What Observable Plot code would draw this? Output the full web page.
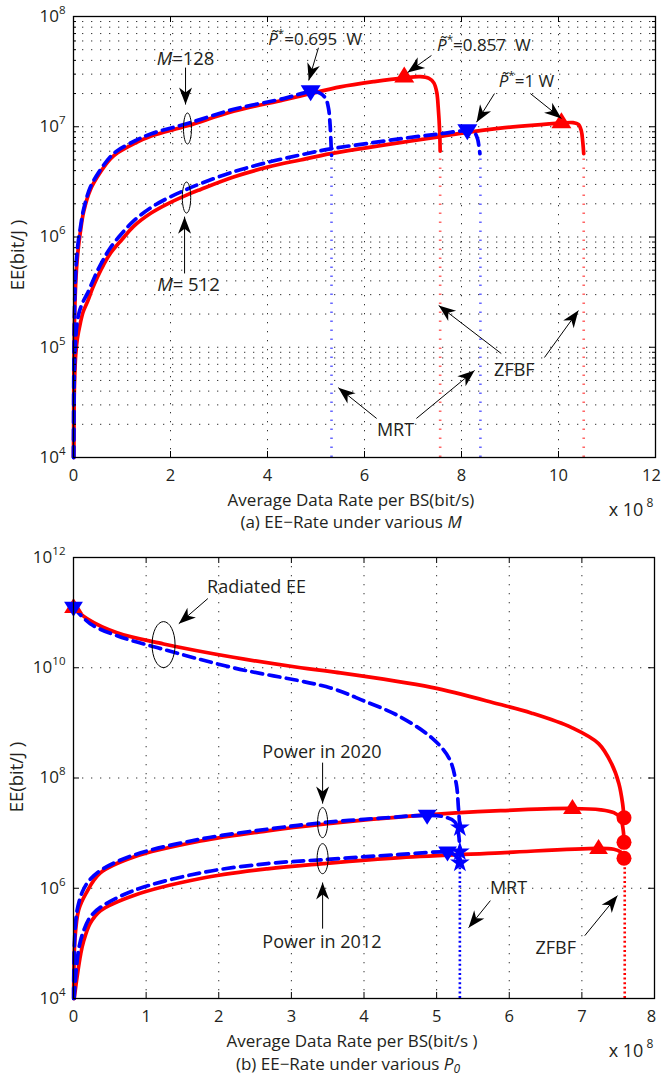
<!DOCTYPE html>
<html><head><meta charset="utf-8">
<script src="https://cdn.jsdelivr.net/npm/d3@7"></script>
<script src="https://cdn.jsdelivr.net/npm/@observablehq/plot@0.6"></script>
<style>
body{margin:0;background:#fff;font-family:"Open Sans",sans-serif;color:#231f20;}
#root{position:relative;width:662px;height:1076px;overflow:hidden;background:#fff;}
.pane{position:absolute;left:0;}
.lbl{position:absolute;font-size:17px;white-space:nowrap;line-height:1;transform:translate(-50%,-50%);}
svg text{white-space:pre;}
</style></head><body><div id="root"></div>
<script>
// ================= TOP PANEL (a): rate in units of 1e8 bit/s =================
const topXTicks = [0, 2, 4, 6, 8, 10, 12];
const topXLabels = [0, 2, 4, 6, 8, 10];
const topXLast = [12];
const topXGrid = [2, 4, 6, 8, 10];
const topYTicks = [1e4, 1e5, 1e6, 1e7, 1e8];
const topYGrid = [2e4,3e4,4e4,5e4,6e4,7e4,8e4,9e4,1e5,2e5,3e5,4e5,5e5,6e5,7e5,8e5,9e5,1e6,2e6,3e6,4e6,5e6,6e6,7e6,8e6,9e6,1e7,2e7,3e7,4e7,5e7,6e7,7e7,8e7,9e7];
const topYMinor = [2e4,3e4,4e4,5e4,6e4,7e4,8e4,9e4,2e5,3e5,4e5,5e5,6e5,7e5,8e5,9e5,2e6,3e6,4e6,5e6,6e6,7e6,8e6,9e6,2e7,3e7,4e7,5e7,6e7,7e7,8e7,9e7];

// M = 128, ZFBF (red solid)
const zf128X = [0.002,0.01,0.03,0.06,0.1,0.14,0.21,0.35,0.56,0.76,0.91,1.24,1.59,2.35,3.3,4.33,4.89,5.5,6.2,6.82,7.15,7.33,7.43,7.49,7.52,7.55,7.56];
const zf128Y = [1e4,8e4,2.5e5,5e5,8e5,1.1e6,1.7e6,2.7e6,3.9e6,5.1e6,5.8e6,7.0e6,8.2e6,1.02e7,1.38e7,1.75e7,2.0e7,2.3e7,2.57e7,2.78e7,2.85e7,2.75e7,2.5e7,2.05e7,1.5e7,9e6,6e6];
// M = 128, MRT (blue dashed)
const mrt128X = [0.0018,0.008,0.025,0.05,0.09,0.14,0.21,0.35,0.56,0.76,0.91,1.24,1.59,2.35,3.3,4.33,4.89,5.08,5.2,5.26,5.29,5.31,5.32];
const mrt128Y = [1e4,8e4,2.6e5,5.2e5,8.5e5,1.2e6,1.8e6,2.85e6,4.1e6,5.35e6,6.1e6,7.35e6,8.6e6,1.07e7,1.44e7,1.8e7,2.08e7,2.02e7,1.8e7,1.45e7,1.05e7,7e6,5.5e6];
// M = 512, ZFBF
const zf512X = [0.004,0.012,0.025,0.045,0.08,0.14,0.2,0.29,0.39,0.49,0.62,0.76,1.0,1.24,1.6,1.94,2.33,2.62,3.3,4.0,4.68,5.3,6.0,6.8,7.53,8.12,8.8,9.44,10.06,10.3,10.41,10.47,10.5,10.52];
const zf512Y = [1e4,3e4,5.5e4,8.5e4,1.2e5,1.65e5,2.1e5,2.6e5,3.4e5,4.3e5,5.6e5,7.1e5,9.5e5,1.25e6,1.65e6,2.0e6,2.4e6,2.7e6,3.5e6,4.3e6,5.0e6,5.7e6,6.4e6,7.25e6,8.1e6,8.9e6,9.7e6,1.03e7,1.08e7,1.09e7,1.05e7,9.2e6,7.3e6,5.7e6];
// M = 512, MRT
const mrt512X = [0.003,0.01,0.02,0.04,0.07,0.12,0.2,0.29,0.39,0.49,0.62,0.76,1.0,1.24,1.6,1.94,2.33,2.62,3.3,4.0,4.68,5.3,6.0,6.8,7.53,8.12,8.26,8.33,8.36,8.38];
const mrt512Y = [1e4,3.2e4,6.5e4,1.1e5,1.6e5,2.1e5,2.6e5,3.1e5,3.9e5,4.9e5,6.3e5,8e5,1.08e6,1.4e6,1.85e6,2.25e6,2.7e6,3.05e6,3.9e6,4.75e6,5.55e6,6.3e6,7.0e6,7.85e6,8.6e6,9.2e6,8.9e6,7.8e6,6.6e6,5.7e6];
// dotted drops to the axis (max-rate points)
const topDropX = [7.56, 10.52, 5.32, 8.39];
const topDropY = [6e6, 5.7e6, 5.5e6, 5.7e6];
const topDropSeries = ["ZFBF", "ZFBF", "MRT", "MRT"];
// optimal-power markers
const topRedTriX = [6.82, 10.06];
const topRedTriY = [2.85e7, 1.1e7];
const topBlueTriX = [4.89, 8.12];
const topBlueTriY = [2.1e7, 9.3e6];
// annotations
const topNoteText = ["<i>M</i>=128", "<i>M</i>= 512", "<i>P\u0303</i><sup>*</sup>=0.695  W", "<i>P\u0303</i><sup>*</sup>=0.857  W", "<i>P\u0303</i><sup>*</sup>=1 W", "MRT", "ZFBF"];
const topNoteSize = [18.5, 18.5, 17, 17, 17, 18, 18];
const topNoteX = [2.31, 2.37, 4.98, 8.46, 9.34, 6.64, 9.09];
const topNoteY = [4.07e7, 3.63e5, 6.17e7, 5.46e7, 2.55e7, 1.76e4, 6.15e4];
const topArrX1 = [2.31, 2.29, 5.05, 7.38, 8.68, 9.42, 6.25, 7.07, 8.82, 9.71];
const topArrY1 = [3.44e7, 4.67e5, 5.2e7, 4.43e7, 2.0e7, 2.0e7, 2.26e4, 2.26e4, 8.77e4, 8.07e4];
const topArrX2 = [2.31, 2.29, 4.85, 6.89, 8.31, 10.06, 5.46, 8.27, 7.53, 10.41];
const topArrY2 = [1.59e7, 1.53e6, 2.63e7, 3.1e7, 1.1e7, 1.19e7, 4.3e4, 6.15e4, 2.39e5, 2.15e5];
const topEllX = [2.35, 2.33];
const topEllY = [9.64e6, 2.28e6];

// ================= BOTTOM PANEL (b) =================
const botXTicks = [0, 1, 2, 3, 4, 5, 6, 7, 8];
const botXLabels = [0, 1, 2, 3, 4, 5, 6, 7];
const botXLast = [8];
const botXGrid = [1, 2, 3, 4, 5, 6, 7];
const botYTicks = [1e4, 1e6, 1e8, 1e10, 1e12];
const botYGrid = [1e6, 1e8, 1e10];
// Radiated EE
const radZfX = [0,0.19,0.6,1.24,2.2,3.13,3.55,4.93,5.85,6.31,6.86,7.23,7.41,7.51,7.56,7.58];
const radZfY = [1.25e11,7.7e10,4.3e10,2.7e10,1.55e10,1.0e10,8.5e9,4.4e9,2.2e9,1.5e9,8.2e8,4.2e8,1.8e8,7.9e7,3.5e7,1.9e7];
const radMrtX = [0,0.23,0.6,1.16,2.2,3.54,4.0,4.47,4.93,5.17,5.27,5.3,5.32];
const radMrtY = [1.25e11,6.3e10,3.8e10,2.3e10,1.0e10,4.3e9,2.5e9,1.35e9,5.4e8,2.3e8,7.9e7,2.9e7,1.26e7];
// Power in 2020
const p20ZfX = [0.003,0.02,0.07,0.17,0.37,0.83,1.75,2.67,3.44,4.68,5.88,6.87,7.26,7.44,7.53,7.57,7.58];
const p20ZfY = [1e4,1.2e5,4e5,8e5,1.9e6,3.7e6,7.2e6,1.1e7,1.45e7,2.05e7,2.55e7,2.8e7,2.65e7,2.35e7,1.9e7,1.1e7,6.8e6];
const p20MrtX = [0.002,0.015,0.05,0.12,0.2,0.37,0.83,1.75,2.67,3.44,4.3,4.87,5.12,5.25,5.3,5.32];
const p20MrtY = [1e4,1.2e5,4e5,8.5e5,1.3e6,2.1e6,4.0e6,7.8e6,1.18e7,1.55e7,1.9e7,2.1e7,1.95e7,1.6e7,1.0e7,4.6e6];
// Power in 2012
const p12ZfX = [0.01,0.05,0.1,0.14,0.23,0.37,0.83,1.75,2.67,3.44,4.5,5.88,7.23,7.44,7.53,7.57,7.58];
const p12ZfY = [1e4,2.5e4,6.5e4,1.1e5,2.3e5,3.9e5,7.4e5,1.5e6,2.25e6,2.8e6,3.6e6,4.4e6,5.3e6,5.1e6,4.6e6,4e6,3.5e6];
const p12MrtX = [0.008,0.04,0.08,0.14,0.23,0.37,0.83,1.75,2.67,3.44,4.5,5.15,5.25,5.3,5.32];
const p12MrtY = [1e4,3.6e4,9e4,1.7e5,3e5,4.5e5,9.1e5,1.9e6,2.8e6,3.3e6,4.1e6,4.5e6,4.0e6,3.3e6,2.9e6];
const botDropX = [7.59, 5.32];
const botDropY = [3.5e6, 2.9e6];
const botDropSeries = ["ZFBF", "MRT"];
const botRedTriX = [0, 6.87, 7.23];
const botRedTriY = [1.25e11, 2.8e7, 5.3e6];
const botBlueTriX = [0, 4.87, 5.15];
const botBlueTriY = [1.25e11, 2.1e7, 4.5e6];
const botStarX = [5.32, 5.32, 5.32];
const botStarY = [1.26e7, 4.6e6, 2.9e6];
const botCircX = [7.58, 7.58, 7.58];
const botCircY = [1.9e7, 6.8e6, 3.5e6];
const botNoteText = ["Radiated EE", "Power in 2020", "Power in 2012", "MRT", "ZFBF"];
const botNoteX = [2.52, 3.42, 3.42, 5.99, 6.64];
const botNoteY = [2.86e11, 2.89e8, 1.07e5, 9.85e5, 8.0e4];
const botArrX1 = [1.85, 3.43, 3.43, 5.74, 7.04];
const botArrY1 = [1.8e11, 1.9e8, 1.85e5, 5.96e5, 1.38e5];
const botArrX2 = [1.45, 3.43, 3.43, 5.44, 7.49];
const botArrY2 = [6.3e10, 3.43e7, 1.27e6, 1.93e5, 7.35e5];
const botEllX = [1.24, 3.43, 3.43];
const botEllY = [2.63e10, 1.55e7, 3.44e6];

// ================= helpers =================
const RED = "#ff0000", BLUE = "#0000ff", INK = "#231f20";
const NS = "http://www.w3.org/2000/svg";
const zip = (xs, ys) => xs.map((x, i) => ({x, y: ys[i]}));
const zip4 = (a, b, c, d) => a.map((v, i) => ({x1: v, y1: b[i], x2: c[i], y2: d[i]}));
const triUp = {draw(c, s) { const r = Math.sqrt(s / Math.PI); c.moveTo(0, -1.25 * r); c.lineTo(1.25 * r, 0.75 * r); c.lineTo(-1.25 * r, 0.75 * r); c.closePath(); }};
const triDown = {draw(c, s) { const r = Math.sqrt(s / Math.PI); c.moveTo(0, 1.25 * r); c.lineTo(1.25 * r, -0.75 * r); c.lineTo(-1.25 * r, -0.75 * r); c.closePath(); }};
const ellipse = (rx, ry) => ({draw(c) {
  const k = 0.5523;
  c.moveTo(rx, 0);
  c.bezierCurveTo(rx, ry * k, rx * k, ry, 0, ry);
  c.bezierCurveTo(-rx * k, ry, -rx, ry * k, -rx, 0);
  c.bezierCurveTo(-rx, -ry * k, -rx * k, -ry, 0, -ry);
  c.bezierCurveTo(rx * k, -ry, rx, -ry * k, rx, 0);
  c.closePath();
}});
const pow10 = d => `10<sup>${Math.round(Math.log10(d))}</sup>`;

function richify(root) {
  root.querySelectorAll("text").forEach(t => {
    const s = t.textContent;
    if (!/<(sup|sub|i)>/.test(s)) return;
    while (t.firstChild) t.removeChild(t.firstChild);
    const re = /<(sup|sub|i)>(.*?)<\/(?:sup|sub|i)>|([^<]+)/g;
    let m, shift = 0;
    while ((m = re.exec(s)) !== null) {
      const ts = document.createElementNS(NS, "tspan");
      let target = 0;
      if (m[3] !== undefined) ts.textContent = m[3];
      else {
        ts.textContent = m[2];
        if (m[1] === "i") ts.setAttribute("font-style", "italic");
        else { ts.setAttribute("font-size", "0.68em"); target = m[1] === "sup" ? -8 : 4; }
      }
      if (target !== shift) { ts.setAttribute("dy", (target - shift) + "px"); shift = target; }
      t.appendChild(ts);
    }
  });
}
function finish(svg, id) {
  const defs = document.createElementNS(NS, "defs");
  const mk = document.createElementNS(NS, "marker");
  const at = {id, viewBox: "-18 -8 20 16", refX: 0, refY: 0, markerWidth: 20, markerHeight: 16, markerUnits: "userSpaceOnUse", orient: "auto"};
  for (const k in at) mk.setAttribute(k, at[k]);
  const p = document.createElementNS(NS, "path");
  p.setAttribute("d", "M0,0 L-17,-6.5 L-12,0 L-17,6.5 Z");
  p.setAttribute("fill", "#000");
  mk.appendChild(p); defs.appendChild(mk);
  svg.insertBefore(defs, svg.firstChild);
  svg.querySelectorAll('g[aria-label="link"] path')
    .forEach(q => q.setAttribute("marker-end", `url(#${id})`));
  richify(svg);
  return svg;
}
function frameTicks(xt, yt, ytMinor, H, W) {
  const tk = {stroke: "#000", strokeWidth: 1};
  const m = [
    Plot.ruleX(xt, {...tk, insetTop: H - 6}),
    Plot.ruleX(xt, {...tk, insetBottom: H - 6}),
    Plot.ruleY(yt, {...tk, insetRight: W - 6}),
    Plot.ruleY(yt, {...tk, insetLeft: W - 6})
  ];
  if (ytMinor) m.push(
    Plot.ruleY(ytMinor, {...tk, insetRight: W - 3}),
    Plot.ruleY(ytMinor, {...tk, insetLeft: W - 3})
  );
  return m;
}
const style = {fontFamily: "'Open Sans', sans-serif", fontSize: "16.5px", color: INK, background: "transparent", overflow: "visible"};
const gridStyle = {stroke: "#000", strokeOpacity: 0.8, strokeWidth: 1, strokeDasharray: "1.3,7.7"};
const redLine = {x: "x", y: "y", stroke: RED, strokeWidth: 3.7, curve: "catmull-rom"};
const blueLine = {x: "x", y: "y", stroke: BLUE, strokeWidth: 3.7, strokeDasharray: "11,6.5", curve: "catmull-rom"};
const tickText = {tickSize: 0, tickPadding: 12, tickFormat: d => String(d), label: null, fontSize: 16.5};
const yTickText = {tickSize: 0, tickPadding: 8, tickFormat: pow10, label: null, fontSize: 17};

// ================= plot (a) =================
const topDrops = topDropX.map((x, i) => ({x, y1: 1e4, y2: topDropY[i], s: topDropSeries[i]}));
const topPlot = Plot.plot({
  width: 662, height: 490,
  marginLeft: 73, marginRight: 7, marginTop: 16, marginBottom: 33,
  x: {domain: [0, 12]},
  y: {type: "log", domain: [1e4, 1e8]},
  style,
  marks: [
    Plot.gridY(topYGrid, gridStyle),
    Plot.gridX(topXGrid, gridStyle),
    Plot.ruleX(topDrops, {x: "x", y1: "y1", y2: "y2", stroke: d => d.s === "ZFBF" ? RED : BLUE, strokeOpacity: 0.6, strokeWidth: 2.6, strokeDasharray: "1.6,7.4"}),
    Plot.line(zip(zf128X, zf128Y), redLine),
    Plot.line(zip(zf512X, zf512Y), redLine),
    Plot.line(zip(mrt128X, mrt128Y), blueLine),
    Plot.line(zip(mrt512X, mrt512Y), blueLine),
    Plot.dot(zip(topRedTriX, topRedTriY), {x: "x", y: "y", symbol: triUp, r: 8, fill: RED, stroke: "none"}),
    Plot.dot(zip(topBlueTriX, topBlueTriY), {x: "x", y: "y", symbol: triDown, r: 8, fill: BLUE, stroke: "none"}),
    Plot.dot([{x: topEllX[0], y: topEllY[0]}], {x: "x", y: "y", symbol: ellipse(4, 15.5), fill: "none", stroke: "#000", strokeWidth: 1}),
    Plot.dot([{x: topEllX[1], y: topEllY[1]}], {x: "x", y: "y", symbol: ellipse(4.2, 15.5), fill: "none", stroke: "#000", strokeWidth: 1}),
    Plot.link(zip4(topArrX1, topArrY1, topArrX2, topArrY2), {x1: "x1", y1: "y1", x2: "x2", y2: "y2", stroke: "#000", strokeWidth: 1}),
    Plot.text(topNoteX.map((x, i) => ({x, y: topNoteY[i], t: topNoteText[i], s: topNoteSize[i]})), {x: "x", y: "y", text: "t", fontSize: d => d.s, fill: INK}),
    Plot.frame({stroke: "#000", strokeWidth: 1.3}),
    ...frameTicks(topXTicks, topYTicks, topYMinor, 441, 582),
    Plot.axisX(topXLabels, tickText),
    Plot.axisX(topXLast, {...tickText, dx: -4}),
    Plot.axisY(topYTicks, yTickText)
  ]
});

// ================= plot (b) =================
const botDrops = botDropX.map((x, i) => ({x, y1: 1e4, y2: botDropY[i], s: botDropSeries[i]}));
const botPlot = Plot.plot({
  width: 662, height: 546,
  marginLeft: 73, marginRight: 8, marginTop: 27, marginBottom: 78,
  x: {domain: [0, 8]},
  y: {type: "log", domain: [1e4, 1e12]},
  style,
  marks: [
    Plot.gridY(botYGrid, gridStyle),
    Plot.gridX(botXGrid, gridStyle),
    Plot.ruleX(botDrops, {x: "x", y1: "y1", y2: "y2", stroke: d => d.s === "ZFBF" ? RED : BLUE, strokeWidth: 2.6, strokeDasharray: "2,2.6"}),
    Plot.line(zip(radZfX, radZfY), redLine),
    Plot.line(zip(p20ZfX, p20ZfY), redLine),
    Plot.line(zip(p12ZfX, p12ZfY), redLine),
    Plot.line(zip(radMrtX, radMrtY), blueLine),
    Plot.line(zip(p20MrtX, p20MrtY), blueLine),
    Plot.line(zip(p12MrtX, p12MrtY), blueLine),
    Plot.dot(zip(botRedTriX, botRedTriY), {x: "x", y: "y", symbol: triUp, r: 7.5, fill: RED, stroke: "none"}),
    Plot.dot(zip(botCircX, botCircY), {x: "x", y: "y", symbol: "circle", r: 7.5, fill: RED, stroke: "none"}),
    Plot.dot(zip(botBlueTriX, botBlueTriY), {x: "x", y: "y", symbol: triDown, r: 7.5, fill: BLUE, stroke: "none"}),
    Plot.dot(zip(botStarX, botStarY), {x: "x", y: "y", symbol: "star", r: 6.2, fill: BLUE, stroke: "none"}),
    Plot.dot([{x: botEllX[0], y: botEllY[0]}], {x: "x", y: "y", symbol: ellipse(11.5, 23), fill: "none", stroke: "#000", strokeWidth: 1}),
    Plot.dot([{x: botEllX[1], y: botEllY[1]}], {x: "x", y: "y", symbol: ellipse(5, 15), fill: "none", stroke: "#000", strokeWidth: 1}),
    Plot.dot([{x: botEllX[2], y: botEllY[2]}], {x: "x", y: "y", symbol: ellipse(5.5, 15), fill: "none", stroke: "#000", strokeWidth: 1}),
    Plot.link(zip4(botArrX1, botArrY1, botArrX2, botArrY2), {x1: "x1", y1: "y1", x2: "x2", y2: "y2", stroke: "#000", strokeWidth: 1}),
    Plot.text(botNoteX.map((x, i) => ({x, y: botNoteY[i], t: botNoteText[i]})), {x: "x", y: "y", text: "t", fontSize: 18, fill: INK}),
    Plot.frame({stroke: "#000", strokeWidth: 1.3}),
    ...frameTicks(botXTicks, botYTicks, null, 441, 581),
    Plot.axisX(botXLabels, tickText),
    Plot.axisX(botXLast, {...tickText, dx: -3}),
    Plot.axisY(botYTicks, yTickText)
  ]
});

// ================= assemble =================
const root = document.getElementById("root");
function pane(svg, top, id) {
  const d = document.createElement("div");
  d.className = "pane"; d.style.top = top + "px";
  d.appendChild(finish(svg, id));
  root.appendChild(d);
}
pane(topPlot, 0, "ahA");
pane(botPlot, 530, "ahB");
function label(html, cx, cy, extra) {
  const d = document.createElement("div");
  d.className = "lbl"; d.innerHTML = html;
  d.style.left = cx + "px"; d.style.top = cy + "px";
  if (extra) Object.assign(d.style, extra);
  root.appendChild(d);
}
const sup8 = 'x 10<span style="font-size:12px;position:relative;top:-9px;margin-left:3px">8</span>';
label("Average Data Rate per BS(bit/s)", 351, 499);
label("(a) EE\u2212Rate under various <i>M</i>", 351, 521);
label(sup8, 631, 509, {fontSize: "18px"});
label("EE(bit/J )", 17, 255, {transform: "translate(-50%,-50%) rotate(-90deg)", fontSize: "18.5px"});
label("Average Data Rate per BS(bit/s )", 352, 1040);
label('(b) EE\u2212Rate under various <i>P<span style="font-size:12px;position:relative;top:3px">0</span></i>', 348, 1063);
label(sup8, 631, 1050, {fontSize: "18px"});
label("EE(bit/J )", 16, 777, {transform: "translate(-50%,-50%) rotate(-90deg)", fontSize: "18.5px"});
</script></body></html>
